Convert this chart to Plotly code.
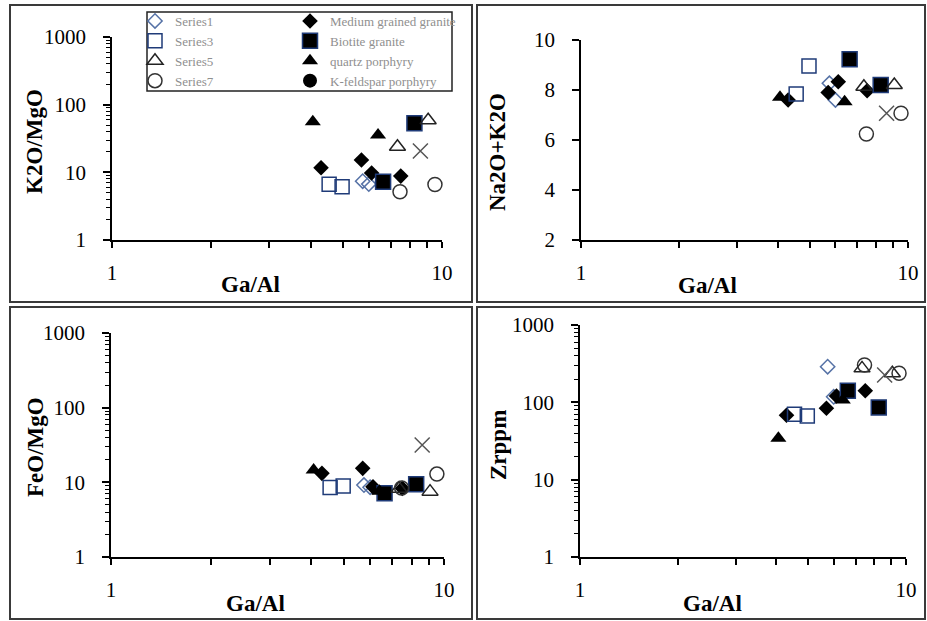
import plotly.graph_objects as go

W, H = 927, 621

# ---------------- data ----------------
# Series1 (open diamond)
S1_GA = [5.75, 6.0]
S1_K2O_MGO = [7.4, 6.7]
S1_NA2O_K2O = [8.27, 7.6]
S1_FEO_MGO = [9.2, 8.6]
S1_ZR = [289, 118]

# Medium grained granite (filled diamond)
MED_GA = [4.3, 5.7, 6.12, 7.5]
MED_K2O_MGO = [11.7, 15.2, 9.8, 8.8]
MED_NA2O_K2O = [7.6, 7.9, 8.33, 7.97]
MED_FEO_MGO = [13.2, 15.4, 8.7, 8.3]
MED_ZR = [68, 84, 121, 141]

# Series3 (open square)
S3_GA = [4.55, 4.98]
S3_K2O_MGO = [6.65, 6.1]
S3_NA2O_K2O = [7.84, 8.96]
S3_FEO_MGO = [8.5, 8.9]
S3_ZR = [70, 66.6]

# Biotite granite (filled square)
BIO_GA = [6.63, 8.25]
BIO_K2O_MGO = [7.27, 53]
BIO_NA2O_K2O = [9.23, 8.2]
BIO_FEO_MGO = [7.13, 9.4]
BIO_ZR = [141, 86]

# Series5 (open triangle)
S5_GA = [7.33, 9.08]
S5_K2O_MGO = [23.9, 59]
S5_NA2O_K2O = [8.13, 8.2]
S5_FEO_MGO = [8.2, 7.5]
S5_ZR = [275, 238]

# quartz porphyry (filled triangle)
QP_GA = [4.06, 6.4]
QP_K2O_MGO = [56, 35.6]
QP_NA2O_K2O = [7.71, 7.53]
QP_FEO_MGO = [14.6, 7.6]
QP_ZR = [34.3, 107]

# Series7 (open circle)
S7_GA = [7.46, 9.52]
S7_K2O_MGO = [5.17, 6.6]
S7_NA2O_K2O = [6.24, 7.07]
S7_FEO_MGO = [8.4, 12.9]
S7_ZR = [304, 238]

# K-feldspar porphyry (filled circle) - no visible points in the chart
KF_GA = [None]
KF_K2O_MGO = [None]
KF_NA2O_K2O = [None]
KF_FEO_MGO = [None]
KF_ZR = [None]

# unlabelled series (x)
S9_GA = [8.6]
S9_K2O_MGO = [20.6]
S9_NA2O_K2O = [7.07]
S9_FEO_MGO = [31.6]
S9_ZR = [226]

X_TICKS = [1, 2, 3, 4, 5, 6, 7, 8, 9, 10]
X_TICKTEXT = ["1", "", "", "", "", "", "", "", "", "10"]
LIN_TICKS = [2, 4, 6, 8, 10]

# ---------------- styles ----------------
NAVY = "#1f3b78"
STEEL = "#5672a6"
series = [
    ("Series1", S1_GA, [S1_K2O_MGO, S1_NA2O_K2O, S1_FEO_MGO, S1_ZR],
     dict(symbol="diamond-open", size=11, color=STEEL, line=dict(width=1.5, color=STEEL)), "legend"),
    ("Medium grained granite", MED_GA, [MED_K2O_MGO, MED_NA2O_K2O, MED_FEO_MGO, MED_ZR],
     dict(symbol="diamond", size=12, color="black", line=dict(width=0)), "legend2"),
    ("Series3", S3_GA, [S3_K2O_MGO, S3_NA2O_K2O, S3_FEO_MGO, S3_ZR],
     dict(symbol="square-open", size=14, color=NAVY, line=dict(width=1.5, color=NAVY)), "legend"),
    ("Biotite granite", BIO_GA, [BIO_K2O_MGO, BIO_NA2O_K2O, BIO_FEO_MGO, BIO_ZR],
     dict(symbol="square", size=15, color="black", line=dict(width=1.5, color=NAVY)), "legend2"),
    ("Series5", S5_GA, [S5_K2O_MGO, S5_NA2O_K2O, S5_FEO_MGO, S5_ZR],
     dict(symbol="triangle-up-open", size=14, color="#222222", line=dict(width=1.5, color="#222222")), "legend"),
    ("quartz porphyry", QP_GA, [QP_K2O_MGO, QP_NA2O_K2O, QP_FEO_MGO, QP_ZR],
     dict(symbol="triangle-up", size=14, color="black", line=dict(width=0)), "legend2"),
    ("Series7", S7_GA, [S7_K2O_MGO, S7_NA2O_K2O, S7_FEO_MGO, S7_ZR],
     dict(symbol="circle-open", size=14, color="#333333", line=dict(width=1.5, color="#333333")), "legend"),
    ("K-feldspar porphyry", KF_GA, [KF_K2O_MGO, KF_NA2O_K2O, KF_FEO_MGO, KF_ZR],
     dict(symbol="circle", size=14, color="black", line=dict(width=0)), "legend2"),
    ("Series9", S9_GA, [S9_K2O_MGO, S9_NA2O_K2O, S9_FEO_MGO, S9_ZR],
     dict(symbol="x-thin-open", size=15, color="#555555", line=dict(width=1.5, color="#555555")), None),
]

fig = go.Figure()
axes_ids = [("x", "y"), ("x2", "y2"), ("x3", "y3"), ("x4", "y4")]
for name, ga, ys, mk, lg in series:
    for i, (xa, ya) in enumerate(axes_ids):
        if lg is not None and i == 0:
            kw = dict(showlegend=True, legend=lg)
        else:
            kw = dict(showlegend=False)
        fig.add_trace(go.Scatter(x=ga, y=ys[i], mode="markers", name=name,
                                 marker=mk, xaxis=xa, yaxis=ya, cliponaxis=False,
                                 legendgroup=name, **kw))

SERIF = "Liberation Serif, Times New Roman, serif"
TICKFONT = dict(family=SERIF, size=21, color="black")


def px_dom_x(a, b):
    return [a / W, b / W]


def px_dom_y(top, bottom):
    return [1 - bottom / H, 1 - top / H]


def xaxis_cfg(dom, anchor):
    return dict(domain=dom, type="log", range=[0, 1], anchor=anchor, automargin=False,
                showline=True, linecolor="black", linewidth=1.5, mirror=False,
                showgrid=False, zeroline=False, ticks="outside", ticklen=6,
                tickwidth=1.5, tickcolor="black", tickmode="array",
                tickvals=X_TICKS, ticktext=X_TICKTEXT, tickfont=TICKFONT,
                ticklabelstandoff=7, fixedrange=True)


def ylog_cfg(dom, anchor):
    return dict(domain=dom, type="log", range=[0, 3], anchor=anchor, automargin=False,
                showline=True, linecolor="black", linewidth=1.5,
                showgrid=False, zeroline=False, ticks="outside", ticklen=7,
                tickwidth=1.5, tickcolor="black", tickmode="linear", tick0=0, dtick=1,
                tickfont=TICKFONT, ticklabelstandoff=13,
                minor=dict(ticks="outside", ticklen=4, tickwidth=1, tickcolor="black",
                           dtick="D1", showgrid=False),
                fixedrange=True)


fig.update_layout(
    width=W, height=H, margin=dict(l=0, r=0, t=0, b=0, pad=0, autoexpand=False),
    paper_bgcolor="white", plot_bgcolor="white",
    xaxis=xaxis_cfg(px_dom_x(112, 442), "y"),
    yaxis=ylog_cfg(px_dom_y(37, 240), "x"),
    xaxis2=xaxis_cfg(px_dom_x(581, 908), "y2"),
    yaxis2=dict(domain=px_dom_y(40, 240), type="linear", range=[2, 10], anchor="x2",
                automargin=False,
                showline=True, linecolor="black", linewidth=1.5, showgrid=False,
                zeroline=False, ticks="outside", ticklen=7, tickwidth=1.5,
                tickcolor="black", tickmode="array", tickvals=LIN_TICKS,
                tickfont=TICKFONT, ticklabelstandoff=13, fixedrange=True),
    xaxis3=xaxis_cfg(px_dom_x(111, 444), "y3"),
    yaxis3=ylog_cfg(px_dom_y(333, 557), "x3"),
    xaxis4=xaxis_cfg(px_dom_x(580, 906), "y4"),
    yaxis4=ylog_cfg(px_dom_y(325, 557), "x4"),
    legend=dict(x=135 / W, y=1 - 6 / H, xanchor="left", yanchor="top",
                orientation="v", bgcolor="rgba(0,0,0,0)", borderwidth=0,
                font=dict(family=SERIF, size=13, color="#8f8f8f"), tracegroupgap=0),
    legend2=dict(x=290 / W, y=1 - 6 / H, xanchor="left", yanchor="top",
                 orientation="v", bgcolor="rgba(0,0,0,0)", borderwidth=0,
                 font=dict(family=SERIF, size=13, color="#8f8f8f"), tracegroupgap=0),
    showlegend=True,
)

# panel frames and legend box
shapes = []
for (x0, y0, x1, y1) in [(10, 5, 472, 302), (477, 5, 925, 302),
                         (10, 307, 472, 619), (477, 307, 925, 619)]:
    shapes.append(dict(type="rect", xref="paper", yref="paper",
                       x0=x0 / W, x1=x1 / W, y0=1 - y1 / H, y1=1 - y0 / H,
                       line=dict(color="#3a3a3a", width=2), fillcolor="rgba(0,0,0,0)"))
shapes.append(dict(type="rect", xref="paper", yref="paper",
                   x0=147 / W, x1=452 / W, y0=1 - 91 / H, y1=1 - 12 / H,
                   line=dict(color="#222222", width=1.5), fillcolor="rgba(0,0,0,0)"))
fig.update_layout(shapes=shapes)

# axis titles
TITLEFONT = dict(family=SERIF, size=23, color="black")
ann = []
for txt, cx, cy in [("Ga/Al", 250, 284), ("Ga/Al", 707, 285),
                    ("Ga/Al", 255, 603), ("Ga/Al", 712, 603)]:
    ann.append(dict(text="<b>%s</b>" % txt, x=cx / W, y=1 - cy / H, xref="paper", yref="paper",
                    showarrow=False, xanchor="center", yanchor="middle", font=TITLEFONT))
for txt, cx, cy in [("K2O/MgO", 34, 142), ("Na2O+K2O", 498, 152),
                    ("FeO/MgO", 35, 447), ("Zrppm", 498, 445)]:
    ann.append(dict(text="<b>%s</b>" % txt, x=cx / W, y=1 - cy / H, xref="paper", yref="paper",
                    showarrow=False, xanchor="center", yanchor="middle", textangle=-90,
                    font=TITLEFONT))
fig.update_layout(annotations=ann)

fig.write_html("out.html")
